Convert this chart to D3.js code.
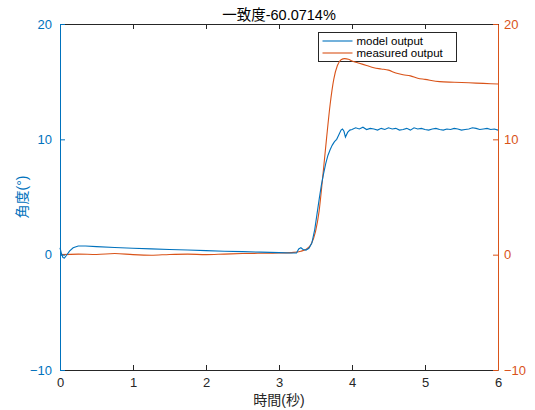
<!DOCTYPE html>
<html>
<head>
<meta charset="utf-8">
<script src="https://cdn.jsdelivr.net/npm/d3@7"></script>
<style>
  body { margin: 0; background: #fff; }
  text { font-family: "Liberation Sans", Arial, "Noto Sans CJK JP", sans-serif; }
</style>
</head>
<body>
<div id="chart"></div>
<script>
// model output (blue, left axis)
const modelTime = [0, 0.02, 0.04, 0.06, 0.09, 0.13, 0.18, 0.25, 0.35, 0.5, 0.75, 1.0, 1.25, 1.5, 1.75, 2.0, 2.25, 2.5, 2.75, 3.0, 3.15, 3.24,
  3.27, 3.3, 3.33, 3.37, 3.41, 3.45, 3.49, 3.52, 3.55, 3.58, 3.61, 3.64, 3.67, 3.7, 3.73, 3.76, 3.79, 3.82, 3.85, 3.87, 3.89, 3.91, 3.94, 3.97, 4.0,
  4.05, 4.1, 4.15, 4.2, 4.25, 4.3, 4.35, 4.4, 4.45, 4.5, 4.55, 4.6, 4.65, 4.7, 4.75, 4.8, 4.85, 4.9, 4.95, 5.0,
  5.05, 5.1, 5.15, 5.2, 5.25, 5.3, 5.35, 5.4, 5.45, 5.5, 5.55, 5.6, 5.65, 5.7, 5.75, 5.8, 5.85, 5.9, 5.95, 6.0];
const modelValues = [0.6, 0.1, -0.25, -0.3, -0.05, 0.3, 0.6, 0.75, 0.75, 0.7, 0.62, 0.55, 0.5, 0.45, 0.4, 0.35, 0.3, 0.26, 0.22, 0.18, 0.15, 0.14,
  0.5, 0.6, 0.45, 0.4, 0.55, 1.0, 2.2, 3.5, 4.8, 6.0, 7.0, 7.9, 8.6, 9.1, 9.5, 9.8, 10.0, 10.4, 10.8, 10.9, 10.7, 10.2, 10.6, 10.8, 10.85,
  11.0, 10.9, 11.05, 10.85, 10.95, 10.9, 10.8, 10.95, 10.85, 11.0, 10.9, 10.95, 10.8, 10.85, 10.95, 10.8, 11.0, 10.9, 10.95, 10.85,
  10.8, 10.9, 10.95, 10.85, 10.8, 10.9, 10.85, 10.95, 10.9, 10.8, 10.85, 10.9, 11.0, 10.95, 10.85, 10.9, 10.95, 10.85, 10.9, 10.8];

// measured output (orange, right axis)
const measTime = [0, 0.25, 0.5, 0.75, 1.0, 1.25, 1.5, 1.75, 2.0, 2.25, 2.5, 2.75, 3.0, 3.2, 3.3, 3.38, 3.44, 3.5, 3.55, 3.6, 3.65, 3.7,
  3.75, 3.8, 3.85, 3.9, 3.95, 4.0, 4.1, 4.2, 4.3, 4.4, 4.5, 4.6, 4.7, 4.8, 4.9, 5.0, 5.2, 5.4, 5.6, 5.8, 6.0];
const measValues = [0, 0.05, 0.02, 0.1, 0.0, -0.05, 0.02, 0.05, 0.0, 0.05, 0.1, 0.12, 0.15, 0.2, 0.3, 0.5, 0.9, 2.0, 3.8, 6.8, 10.0, 13.0,
  15.2, 16.4, 16.9, 17.0, 16.95, 16.8, 16.6, 16.4, 16.2, 16.1, 16.0, 15.75, 15.6, 15.5, 15.3, 15.2, 15.0, 14.95, 14.9, 14.85, 14.8];

const xTicks = [0, 1, 2, 3, 4, 5, 6];
const yTicks = [-10, 0, 10, 20];
const titleText = "一致度-60.0714%";
const xLabel = "時間(秒)";
const yLabel = "角度(°)";
const seriesNames = ["model output", "measured output"];

const blue = "#0072BD", orange = "#D95319", dark = "#262626";
const W = 535, H = 410;
const m = { left: 60, right: 498, top: 24, bottom: 370 };

const svg = d3.select("#chart").append("svg").attr("width", W).attr("height", H);

const x = d3.scaleLinear().domain([0, 6]).range([m.left, m.right]);
const yL = d3.scaleLinear().domain([-10, 20]).range([m.bottom, m.top]);
const yR = d3.scaleLinear().domain([-10, 20]).range([m.bottom, m.top]);

// legend (drawn first so the peak of the curve stays visible, as in the reference)
const leg = svg.append("g").attr("transform", "translate(318.5,32.5)");
leg.append("rect").attr("width", 138).attr("height", 29).attr("fill", "#fff").attr("stroke", dark).attr("stroke-width", 1);
[blue, orange].forEach((c, i) => {
  const yy = 8.5 + i * 12;
  leg.append("line").attr("x1", 4).attr("x2", 34).attr("y1", yy).attr("y2", yy).attr("stroke", c).attr("stroke-width", 1.1);
  leg.append("text").attr("x", 38).attr("y", yy + 3.5).attr("fill", "#000").style("font-size", "11.5px").text(seriesNames[i]);
});

// lines
const modelLine = d3.line().x(d => x(d[0])).y(d => yL(d[1]));
const measLine = d3.line().x(d => x(d[0])).y(d => yR(d[1])).curve(d3.curveMonotoneX);

svg.append("path")
  .datum(measTime.map((t, i) => [t, measValues[i]]))
  .attr("d", measLine).attr("fill", "none").attr("stroke", orange).attr("stroke-width", 1.1);
svg.append("path")
  .datum(modelTime.map((t, i) => [t, modelValues[i]]))
  .attr("d", modelLine).attr("fill", "none").attr("stroke", blue).attr("stroke-width", 1.1);

// axes
function styleAxis(g, color, fontColor) {
  g.select(".domain").attr("stroke", color);
  g.selectAll(".tick line").attr("stroke", color);
  g.selectAll(".tick text").attr("fill", fontColor).style("font-size", "13px")
    .style("font-family", "'Liberation Sans', Arial, sans-serif");
}

svg.append("g").attr("transform", `translate(0,${m.bottom})`)
  .call(d3.axisBottom(x).tickValues(xTicks).tickFormat(d3.format("d")).tickSizeInner(-5).tickSizeOuter(0).tickPadding(8))
  .call(g => styleAxis(g, dark, dark));
svg.append("g").attr("transform", `translate(0,${m.top})`)
  .call(d3.axisTop(x).tickValues(xTicks).tickFormat("").tickSizeInner(-5).tickSizeOuter(0))
  .call(g => styleAxis(g, dark, dark));
svg.append("g").attr("transform", `translate(${m.left},0)`)
  .call(d3.axisLeft(yL).tickValues(yTicks).tickFormat(d3.format("d")).tickSizeInner(-5).tickSizeOuter(0).tickPadding(8))
  .call(g => styleAxis(g, blue, blue));
svg.append("g").attr("transform", `translate(${m.right},0)`)
  .call(d3.axisRight(yR).tickValues(yTicks).tickFormat(d3.format("d")).tickSizeInner(-5).tickSizeOuter(0).tickPadding(6))
  .call(g => styleAxis(g, orange, orange));

// title & labels
svg.append("text").attr("x", (m.left + m.right) / 2).attr("y", 20)
  .attr("text-anchor", "middle").attr("fill", "#000").style("font-size", "14.5px").text(titleText);
svg.append("text").attr("x", (m.left + m.right) / 2).attr("y", 405)
  .attr("text-anchor", "middle").attr("fill", dark).style("font-size", "14px").text(xLabel);
svg.append("text").attr("transform", `translate(27,${(m.top + m.bottom) / 2}) rotate(-90)`)
  .attr("text-anchor", "middle").attr("fill", blue).style("font-size", "14px").text(yLabel);
</script>
</body>
</html>
